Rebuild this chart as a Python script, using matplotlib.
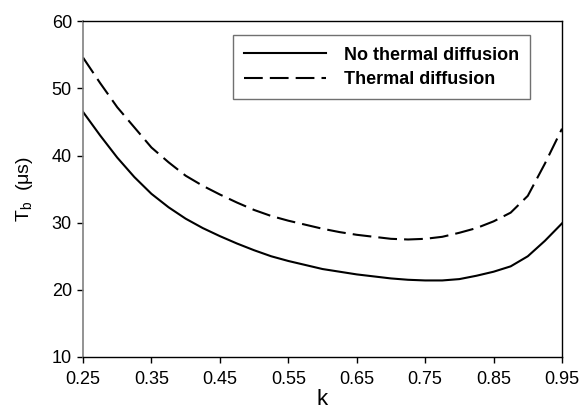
import matplotlib
matplotlib.use("Agg")
import matplotlib.pyplot as plt

plt.rcParams["font.family"] = ["Liberation Sans", "DejaVu Sans"]
plt.rcParams["mathtext.fontset"] = "custom"
plt.rcParams["mathtext.rm"] = "Liberation Sans"

k = [0.25, 0.275, 0.30, 0.325, 0.35, 0.375, 0.40, 0.425, 0.45, 0.475,
     0.50, 0.525, 0.55, 0.575, 0.60, 0.625, 0.65, 0.675, 0.70, 0.725,
     0.75, 0.775, 0.80, 0.825, 0.85, 0.875, 0.90, 0.925, 0.95]
no_diffusion = [46.5, 43.0, 39.7, 36.8, 34.3, 32.3, 30.6, 29.2, 28.0, 26.9,
                25.9, 25.0, 24.3, 23.7, 23.1, 22.7, 22.3, 22.0, 21.7, 21.5,
                21.4, 21.4, 21.6, 22.1, 22.7, 23.5, 25.0, 27.3, 29.9]
diffusion = [54.6, 50.8, 47.2, 44.2, 41.2, 39.0, 37.0, 35.5, 34.2, 33.0,
             31.9, 31.0, 30.3, 29.7, 29.1, 28.6, 28.2, 27.9, 27.6, 27.5,
             27.6, 27.9, 28.5, 29.2, 30.2, 31.5, 34.0, 38.8, 44.0]
xticks = [0.25, 0.35, 0.45, 0.55, 0.65, 0.75, 0.85, 0.95]
yticks = [10, 20, 30, 40, 50, 60]


def main():
    fig = plt.figure(figsize=(5.81, 4.15), dpi=100)
    ax = fig.add_axes([0.1429, 0.1398, 0.8244, 0.8089])

    ax.plot(k, no_diffusion, color="black", lw=1.5, label="No thermal diffusion")
    ax.plot(k, diffusion, color="black", lw=1.5, dashes=(9, 3.4),
            label="Thermal diffusion")

    ax.set_xlim(0.25, 0.95)
    ax.set_ylim(10, 60)
    ax.set_xticks(xticks)
    ax.set_xticklabels([f"{t:.2f}" for t in xticks])
    ax.set_yticks(yticks)
    ax.tick_params(direction="out", length=4, width=1, labelsize=13)
    ax.tick_params(axis="x", pad=6)
    ax.tick_params(axis="y", pad=4)

    for side in ["top", "right", "bottom"]:
        ax.spines[side].set_color("black")
        ax.spines[side].set_linewidth(1)
    ax.spines["left"].set_color("#808080")
    ax.spines["left"].set_linewidth(1.2)

    ax.set_xlabel("k", fontsize=16, labelpad=1)
    ax.set_ylabel(r"T$_\mathrm{b}$  (μs)", fontsize=14, labelpad=12)

    leg = ax.legend(loc="upper right", bbox_to_anchor=(0.933, 0.958),
                    borderaxespad=0, fancybox=False, framealpha=1,
                    edgecolor="#707070", handlelength=4.5, handletextpad=1.0,
                    prop={"weight": "bold", "size": 13}, borderpad=0.62,
                    labelspacing=0.42)
    leg.get_frame().set_linewidth(1)

    fig.savefig("out.png", dpi=100)


if __name__ == "__main__":
    main()
